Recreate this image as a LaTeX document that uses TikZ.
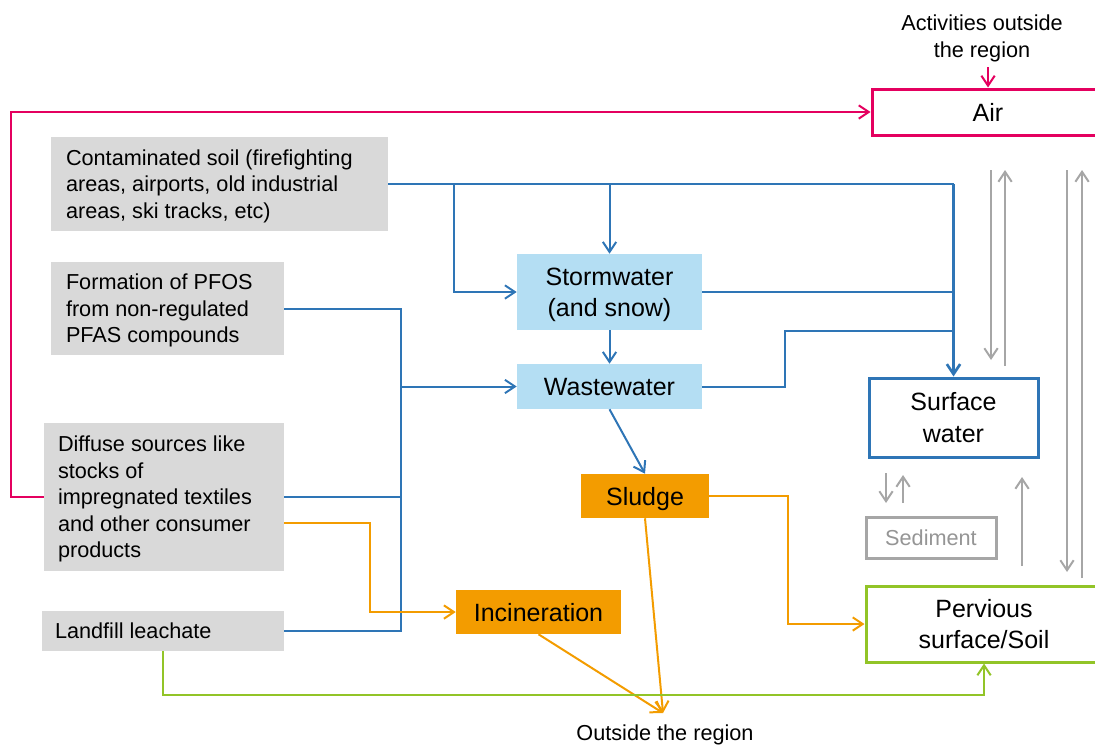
\documentclass[tikz,border=0pt]{standalone}
\usepackage{fontspec}
\setmainfont{Liberation Sans}
\usetikzlibrary{arrows.meta}
\definecolor{pk}{RGB}{228,0,95}
\definecolor{bl}{RGB}{46,117,182}
\definecolor{lb}{RGB}{180,222,243}
\definecolor{og}{RGB}{243,156,0}
\definecolor{gr}{RGB}{146,196,40}
\definecolor{gf}{RGB}{217,217,217}
\definecolor{gl}{RGB}{166,166,166}
\begin{document}
\begin{tikzpicture}[x=0.75pt,y=-0.75pt,
  >={Straight Barb[length=7.5pt,width=10pt]},
  big/.style={font=\fontsize{18.75}{23.5}\selectfont, align=center, inner sep=0pt, text depth=-4pt},
  small/.style={font=\fontsize{16.25}{19.9}\selectfont, text depth=-3pt},
  src/.style={small, fill=gf, align=left, inner ysep=0pt, text depth=-4pt},
  proc/.style={big, fill=lb, minimum width=138.75pt},
  hot/.style={big, fill=og},
  sink/.style={big, draw, line width=2.25pt, fill=white},
  bluel/.style={draw=bl, line width=1.5pt},
  orl/.style={draw=og, line width=1.5pt},
  grl/.style={draw=gr, line width=1.5pt},
  pkl/.style={draw=pk, line width=1.5pt},
  gyl/.style={draw=gl, line width=1.5pt}]
\useasboundingbox (0,0) rectangle (1095,746);
\clip (0,0) rectangle (1095,746);

% source boxes
\node[src, inner xsep=11.25pt, minimum height=70.5pt] (cont) at (219.5,184)
  {\makebox[230.25pt][l]{Contaminated soil (firefighting}\\areas, airports, old industrial\\areas, ski tracks, etc)};
\node[src, inner xsep=11.25pt, minimum height=69.75pt] (form) at (167.5,308.5)
  {\makebox[152.25pt][l]{Formation of PFOS}\\from non-regulated\\PFAS compounds};
\node[src, inner xsep=10.5pt, minimum height=111pt] (diff) at (164,497)
  {\makebox[159pt][l]{Diffuse sources like}\\stocks of\\impregnated textiles\\and other consumer\\products};
\node[src, inner xsep=9.75pt, minimum height=30pt] (land) at (163,631)
  {\makebox[162pt][l]{Landfill leachate}};

% process boxes
\node[proc, minimum height=57pt] (storm) at (609.5,292) {Stormwater\\(and snow)};
\node[proc, minimum height=33.75pt] (waste) at (609.5,386.5) {Wastewater};
\node[hot, minimum width=96pt, minimum height=33pt] (sludge) at (645,496) {Sludge};
\node[hot, minimum width=123.75pt, minimum height=33pt] (incin) at (538.5,612) {Incineration};

% sinks
\node[sink, draw=pk, minimum width=174pt, minimum height=34.5pt] (air) at (988,112) {Air};
\node[sink, draw=bl, minimum width=126.75pt, minimum height=59.25pt] (surf) at (953.5,417.5) {Surface\\water};
\node[sink, draw=gl, text=gl!90!black, font=\fontsize{16.25}{19.9}\selectfont, minimum width=97.5pt, minimum height=30.75pt] (sed) at (931,537.5) {Sediment};
\node[sink, draw=gr, minimum width=177pt, minimum height=57pt] (perv) at (984,624) {Pervious\\surface/Soil};

% labels
\node[small, align=center, inner sep=0pt] (act) at (982,36) {Activities outside\\the region};
\node[small, inner sep=0pt] (outl) at (665,733) {Outside the region};
\coordinate (out) at (663,713);
\coordinate (actb) at (988,67);

% blue connectors
\coordinate (b1) at (454,184);
\coordinate (bus1) at (401,308.5);
\coordinate (bus2) at (401,631);
\coordinate (bus3) at (401,386.5);
\coordinate (ww1) at (785,386.5);
\draw[bluel] (cont.east) -- (cont.east -| surf.north);
\draw[bluel, line width=2pt, ->] (cont.east -| surf.north) -- (surf.north);
\draw[bluel, ->] (b1) |- (storm.west);
\draw[bluel, ->] (storm.north |- cont.east) -- (storm.north);
\draw[bluel] (storm.east) -- (storm.east -| surf.north);
\draw[bluel] (waste.east) -- (ww1) -- (785,331) -- (953.5,331);
\draw[bluel, ->] (storm.south) -- (waste.north);
\draw[bluel] (form.east) -- (bus1) -- (bus2) -- (land.east);
\draw[bluel] (diff.east) -- (diff.east -| bus1);
\draw[bluel, ->] (bus3) -- (waste.west);
\draw[bluel, ->] (waste.south) -- (sludge.north);

% orange connectors
\coordinate (d2) at (284,523);
\draw[orl, ->] (d2) -- (370,523) |- (incin.west);
\draw[orl, ->] (sludge.east) -- (788,496) |- (perv.west);
\draw[orl, ->] (sludge.south) -- (out);
\draw[orl, ->] (incin.south) -- (out);

% green connector
\draw[grl, ->] (land.south) -- (163,695) -| (perv.south);

% pink connectors
\draw[pkl, ->] (diff.west) -- (11,497) |- (air.west);
\draw[pkl, ->] (actb) -- (air.north);

% gray exchange arrows
\coordinate (g1a) at (991,170); \coordinate (g1b) at (991,360);
\coordinate (g2a) at (1005,366); \coordinate (g2b) at (1005,170);
\coordinate (g3a) at (1067,170); \coordinate (g3b) at (1067,572);
\coordinate (g4a) at (1082,578); \coordinate (g4b) at (1082,170);
\coordinate (g5a) at (886,473); \coordinate (g5b) at (886,503);
\coordinate (g6a) at (903,503); \coordinate (g6b) at (903,475);
\coordinate (g7a) at (1022,566); \coordinate (g7b) at (1022,477);
\draw[gyl, ->] (g1a) -- (g1b);
\draw[gyl, ->] (g2a) -- (g2b);
\draw[gyl, ->] (g3a) -- (g3b);
\draw[gyl, ->] (g4a) -- (g4b);
\draw[gyl, ->] (g5a) -- (g5b);
\draw[gyl, ->] (g6a) -- (g6b);
\draw[gyl, ->] (g7a) -- (g7b);
\end{tikzpicture}
\end{document}
